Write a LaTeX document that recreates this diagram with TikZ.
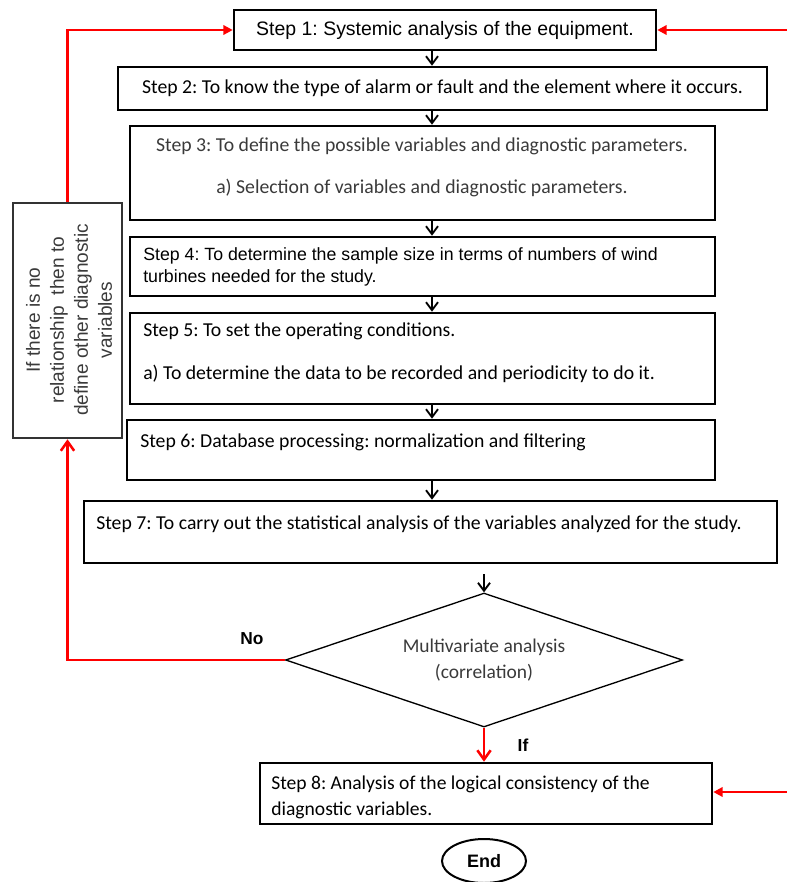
\documentclass[tikz,border=0pt]{standalone}
\usepackage{fontspec}
\setmainfont{Carlito}
\newfontfamily\arialfont{Liberation Sans}
\usetikzlibrary{arrows.meta, shapes.geometric, fit, calc}
\definecolor{txtgray}{HTML}{3A3A3A}
\tikzset{
    stepbox/.style={draw, line width=1.9pt, inner sep=0pt},
    sidebox/.style={draw=black!80, line width=1.9pt, inner sep=0pt},
    decision/.style={diamond, draw, line width=1pt, inner sep=0pt, minimum width=297.75pt, minimum height=100.5pt},
    endshape/.style={ellipse, draw, line width=1.5pt, inner sep=0pt, minimum width=63pt, minimum height=33pt, font=\arialfont\bfseries\fontsize{13.5}{15}\selectfont},
    calText/.style={inner sep=0pt, font=\fontsize{14.8}{17}\selectfont},
    arText/.style={inner sep=0pt, font=\arialfont\fontsize{13.3}{16.5}\selectfont},
    yesNo/.style={inner sep=0pt, font=\arialfont\bfseries\fontsize{13}{14}\selectfont},
    flowArrow/.style={-{Straight Barb[length=6pt, width=9pt]}, line width=1.4pt},
    redArrow/.style={-{Triangle[length=7pt, width=7pt]}, red, line width=1.9pt},
    redBarb/.style={-{Straight Barb[length=7pt, width=10pt]}, red, line width=1.9pt},
}
\newcommand{\drawDown}[2]{
    \draw[flowArrow] (#1.south -| axis) -- (#2.north -| axis);
}

\begin{document}
\frenchspacing
\begin{tikzpicture}[x=0.75pt, y=-0.75pt]
    \useasboundingbox (0,0) rectangle (787,882);
    \coordinate (axis) at (432,0);

    % boxes
    \node[stepbox, fit={(234,10) (656,50)}] (s1) {};
    \node[stepbox, fit={(118,67) (767,110)}] (s2) {};
    \node[stepbox, fit={(130,126) (715,220)}] (s3) {};
    \node[stepbox, fit={(130,237) (715,296)}] (s4) {};
    \node[stepbox, fit={(130,313) (715,404)}] (s5) {};
    \node[stepbox, fit={(127,420) (715,480)}] (s6) {};
    \node[stepbox, fit={(84,501) (777,563)}] (s7) {};
    \node[stepbox, fit={(260,763) (712,824)}] (s8) {};
    \node[sidebox, fit={(13,203) (122,438)}] (side) {};
    \node[decision] (dec) at (484,660) {};
    \node[endshape] (end) at (484,861) {End};

    % texts
    \node[arText, font=\arialfont\fontsize{14.6}{16}\selectfont] (t1) at (s1) {Step 1: Systemic analysis of the equipment.};
    \node[calText] (t2) at (s2) {Step 2: To know the type of alarm or fault and the element where it occurs.};
    \node[calText, txtgray] (t3a) at (422,146) {Step 3: To define the possible variables and diagnostic parameters.};
    \node[calText, txtgray] (t3b) at (422,188) {a) Selection of variables and diagnostic parameters.};
    \node[arText, anchor=west, align=left] (t4) at (143,267) {Step 4: To determine the sample size in terms of numbers of wind\\turbines needed for the study.};
    \node[calText, anchor=west] (t5a) at (143,331) {Step 5: To set the operating conditions.};
    \node[calText, anchor=west] (t5b) at (143,374) {a) To determine the data to be recorded and periodicity to do it.};
    \node[calText, anchor=west] (t6) at (140,442) {Step 6: Database processing: normalization and filtering};
    \node[calText, anchor=west] (t7) at (96,524) {Step 7: To carry out the statistical analysis of the variables analyzed for the study.};
    \node[calText, anchor=west, align=left, font=\fontsize{14.7}{19.5}\selectfont] (t8) at (271,797) {Step 8: Analysis of the logical consistency of the\\diagnostic variables.};
    \node[calText, txtgray, align=center, font=\fontsize{14.6}{20}\selectfont] (tdec) at (dec) {Multivariate analysis\\(correlation)};
    \node[arText, txtgray, rotate=90, align=center, font=\arialfont\fontsize{14.3}{18}\selectfont] (tside) at (69,320) {If there is no\\relationship\ \ then to\\define other diagnostic\\variables};
    \node[yesNo] (no) at (252,639) {No};
    \node[yesNo] (yes) at (523,745) {If};

    % main flow
    \drawDown{s1}{s2}
    \drawDown{s2}{s3}
    \drawDown{s3}{s4}
    \drawDown{s4}{s5}
    \drawDown{s5}{s6}
    \drawDown{s6}{s7}
    \draw[flowArrow] ($(s7.south -| dec)+(0,10)$) -- (dec.north);

    % feedback
    \coordinate (in1) at (787,30);
    \coordinate (in8) at (787,792);
    \draw[redArrow] (side.north) |- (s1.west);
    \draw[redArrow] (in1) -- (s1.east);
    \draw[redBarb] (dec.west) -| (side.south);
    \draw[redBarb] (dec.south) -- (dec.south |- s8.north);
    \draw[redArrow] (in8) -- (in8 -| s8.east);

\end{tikzpicture}
\end{document}
